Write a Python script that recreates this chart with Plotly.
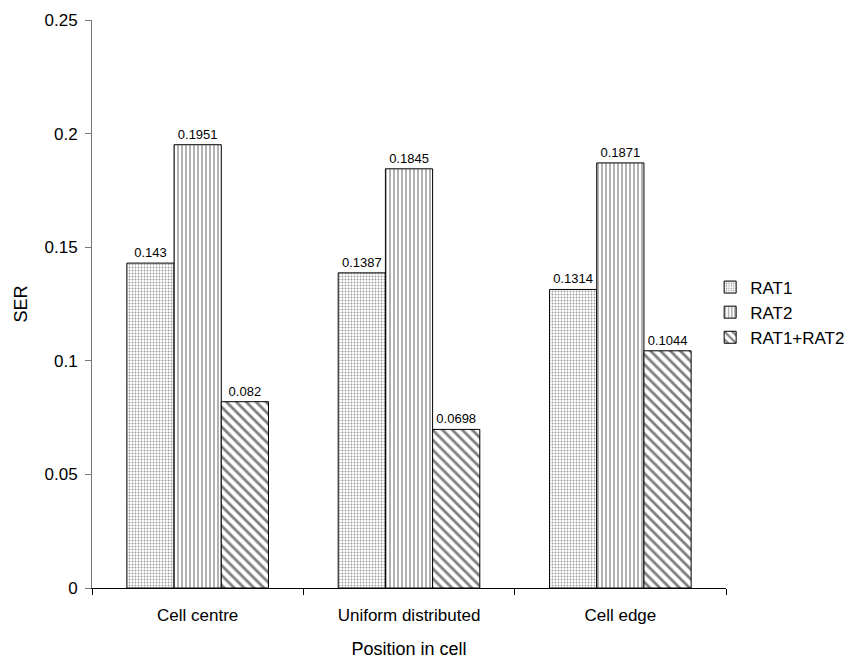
import plotly.graph_objects as go

categories = ["Cell centre", "Uniform distributed", "Cell edge"]
rat1 = [0.143, 0.1387, 0.1314]
rat2 = [0.1951, 0.1845, 0.1871]
rat12 = [0.082, 0.0698, 0.1044]
series_names = ["RAT1", "RAT2", "RAT1+RAT2"]
label_texts = [["0.143", "0.1387", "0.1314"],
               ["0.1951", "0.1845", "0.1871"],
               ["0.082", "0.0698", "0.1044"]]

patterns = [
    dict(shape=".", size=3, solidity=0.3, fgcolor="#333", bgcolor="white"),
    dict(shape="|", size=4, solidity=0.3, fgcolor="black", bgcolor="white"),
    dict(shape="\\", size=7, solidity=0.4, fgcolor="black", bgcolor="white"),
]

FONT = "Liberation Sans, Arial"

fig = go.Figure()
for name, vals, txt, pat in zip(series_names, [rat1, rat2, rat12], label_texts, patterns):
    fig.add_trace(go.Bar(
        name=name, x=categories, y=vals,
        text=txt, textposition="outside", cliponaxis=False,
        textfont=dict(size=13, color="black", family=FONT),
        marker=dict(color="white", line=dict(color="black", width=1), pattern=pat),
    ))

fig.update_layout(
    width=868, height=659,
    margin=dict(l=92, r=142, t=20, b=71),
    paper_bgcolor="white", plot_bgcolor="white",
    barmode="group", bargap=0.33, bargroupgap=0,
    font=dict(family=FONT, size=17, color="black"),
    showlegend=True,
    legend=dict(x=0.975, xanchor="left", y=0.485, yanchor="middle",
                font=dict(size=17), itemwidth=30, tracegroupgap=0),
    xaxis=dict(
        title=dict(text="Position in cell", font=dict(size=18), standoff=18),
        showline=True, linecolor="black", linewidth=1,
        ticks="outside", tickson="boundaries", ticklen=6, tickcolor="black",
        tickfont=dict(size=17), ticklabelstandoff=12, automargin=False,
    ),
    yaxis=dict(
        title=dict(text="SER", font=dict(size=18), standoff=12),
        range=[0, 0.25], dtick=0.05, tick0=0,
        showline=True, linecolor="#777", linewidth=1,
        ticks="outside", ticklen=6, tickcolor="#777",
        showgrid=False, zeroline=False,
        tickfont=dict(size=17), ticklabelstandoff=4, automargin=False,
    ),
)

fig.write_html("out.html")
